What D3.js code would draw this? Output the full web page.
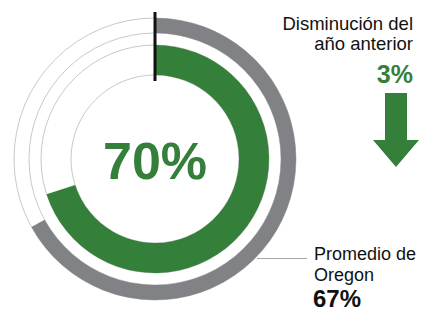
<!DOCTYPE html>
<html>
<head>
<meta charset="utf-8">
<script src="https://cdn.jsdelivr.net/npm/d3@7"></script>
<style>
  body { margin: 0; background: #fff; }
  svg { display: block; font-family: "Liberation Sans", Arial, sans-serif; }
</style>
</head>
<body>
<div id="chart"></div>
<script>
// values
const rateValue = [70];          // this year, percent
const oregonAverage = [67];      // state average, percent
const changeFromLastYear = [3];  // decrease, percentage points
const labels = ["Disminución del", "año anterior", "Promedio de", "Oregon"];

const width = 422,
    height = 313;
const cx = 155, cy = 159;

const green = "#347f3a",
    grey = "#808285",
    track = "#c9c9c9";

const svg = d3.select("#chart")
  .append("svg")
    .attr("width", width)
    .attr("height", height);

const g = svg.append("g")
    .attr("transform", `translate(${cx},${cy})`);

// percent -> angle
const angle = d3.scaleLinear().domain([0, 100]).range([0, 2 * Math.PI]);

const rings = [
  {inner: 84, outer: 114, value: rateValue[0], color: green},
  {inner: 126, outer: 141, value: oregonAverage[0], color: grey}
];

// thin outline of every ring edge
const edges = rings.flatMap(r => [r.inner, r.outer]);
g.selectAll("circle.track")
  .data(edges)
  .join("circle")
    .attr("class", "track")
    .attr("r", d => d)
    .attr("fill", "none")
    .attr("stroke", track)
    .attr("stroke-width", 1);

g.selectAll("path.ring")
  .data(rings)
  .join("path")
    .attr("class", "ring")
    .attr("d", d => d3.arc()
      .innerRadius(d.inner)
      .outerRadius(d.outer)
      .startAngle(angle(0))
      .endAngle(angle(d.value))())
    .attr("fill", d => d.color);

// start marker
g.append("line")
    .attr("x1", 0).attr("x2", 0)
    .attr("y1", -147).attr("y2", -78)
    .attr("stroke", "#111")
    .attr("stroke-width", 3);

// big value
g.append("text")
    .attr("text-anchor", "middle")
    .attr("y", 20)
    .attr("fill", green)
    .attr("font-weight", "bold")
    .attr("font-size", 52)
    .text(rateValue[0] + "%");

// top right: change
const tr = svg.append("g");
tr.selectAll("text.lab")
  .data(labels.slice(0, 2))
  .join("text")
    .attr("class", "lab")
    .attr("x", 413)
    .attr("y", (d, i) => 30 + i * 20)
    .attr("text-anchor", "end")
    .attr("font-size", 18.5)
    .attr("fill", "#111")
    .text(d => d);

tr.append("text")
    .attr("x", 413)
    .attr("y", 83)
    .attr("text-anchor", "end")
    .attr("font-size", 25)
    .attr("font-weight", "bold")
    .attr("fill", green)
    .text(changeFromLastYear[0] + "%");

const ax = 396;
tr.append("path")
    .attr("d", d3.line()([
      [ax - 11, 93], [ax + 11, 93], [ax + 11, 140], [ax + 23, 140],
      [ax, 167], [ax - 23, 140], [ax - 11, 140]
    ]) + "Z")
    .attr("fill", green);

// bottom right: average
svg.append("line")
    .attr("x1", 257).attr("x2", 307)
    .attr("y1", 258.5).attr("y2", 258.5)
    .attr("stroke", "#a6a6a6")
    .attr("stroke-width", 1);

svg.selectAll("text.avg")
  .data(labels.slice(2))
  .join("text")
    .attr("class", "avg")
    .attr("x", 314)
    .attr("y", (d, i) => 260 + i * 21)
    .attr("font-size", 18)
    .attr("fill", "#111")
    .text(d => d);

svg.append("text")
    .attr("x", 313)
    .attr("y", 307)
    .attr("font-size", 24)
    .attr("font-weight", "bold")
    .attr("fill", "#111")
    .text(oregonAverage[0] + "%");
</script>
</body>
</html>
